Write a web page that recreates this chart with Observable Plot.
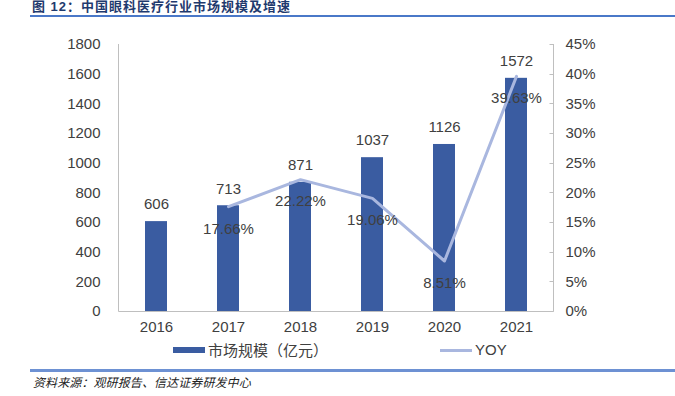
<!DOCTYPE html>
<html>
<head>
<meta charset="utf-8">
<script src="https://cdn.jsdelivr.net/npm/d3@7"></script>
<script src="https://cdn.jsdelivr.net/npm/@observablehq/plot@0.6"></script>
<style>
  html, body { margin: 0; padding: 0; background: #fff; }
  #wrap { position: relative; width: 675px; height: 396px; overflow: hidden; font-family: "Liberation Sans", Arial, sans-serif; }
  #title { position: absolute; left: 32px; top: 0px; font-weight: bold; font-size: 13px; font-family: "Liberation Sans", "Noto Sans CJK SC", sans-serif; color: #1f3a6e; line-height: 14.5px; letter-spacing: 1px; white-space: nowrap; }
  #topline { position: absolute; left: 30px; right: 0; top: 15px; height: 2px; background: #4a78c8; }
  #chart { position: absolute; left: 0; top: 0; }
  #legend { position: absolute; left: 0; top: 340px; width: 675px; height: 20px; font-size: 15px; color: #404040; }
  .sw { position: absolute; }
  .lt { position: absolute; top: 0; line-height: 20px; font-family: "Noto Sans CJK SC", "Liberation Sans", sans-serif; white-space: nowrap; }
  #botline { position: absolute; left: 30px; right: 0; top: 369px; height: 3px; background: #6d91d3; }
  #caption { position: absolute; left: 33px; top: 373px; font: italic 12px "Noto Sans CJK SC", sans-serif; color: #222; letter-spacing: 0.1px; white-space: nowrap; }
</style>
</head>
<body>
<div id="wrap">
  <div id="chart"></div>
  <div id="title">图 12：中国眼科医疗行业市场规模及增速</div>
  <div id="topline"></div>
  <div id="legend"></div>
  <div id="botline"></div>
  <div id="caption">资料来源：观研报告、信达证券研发中心</div>
</div>
<script>
const years = ["2016", "2017", "2018", "2019", "2020", "2021"];
const marketSize = [606, 713, 871, 1037, 1126, 1572];
const yoyYears = ["2017", "2018", "2019", "2020", "2021"];
const yoyValues = [17.66, 22.22, 19.06, 8.51, 39.63];
const leftTicks = [0, 200, 400, 600, 800, 1000, 1200, 1400, 1600, 1800];
const rightTicks = [0, 5, 10, 15, 20, 25, 30, 35, 40, 45];
const seriesNames = ["市场规模（亿元）", "YOY"];

const barColor = "#3a5ca1";
const lineColor = "#a9b7df";
const textColor = "#404040";
const axisColor = "#bfbfbf";
const leftMax = 1800, rightMax = 45;
const k = leftMax / rightMax; // map percent onto the left scale

const bars = years.map((y, i) => ({year: y, value: marketSize[i]}));
const yoy = yoyYears.map((y, i) => ({year: y, value: yoyValues[i]}));

function axisLines(index, scales, values, dims) {
  const g = d3.create("svg:g").attr("fill", "none").attr("stroke", axisColor);
  const x0 = dims.marginLeft + 0.5, x1 = dims.width - dims.marginRight + 0.5;
  const yb = scales.y(0) + 0.5, yt = scales.y(leftMax);
  g.append("path").attr("d", `M${x0},${yt}V${yb}H${x1}V${yt}`);
  for (const t of rightTicks) {
    const yy = Math.round(scales.y(t * k)) + 0.5;
    g.append("path").attr("d", `M${x1 - 4},${yy}H${x1}`);
  }
  return g.node();
}

const plot = Plot.plot({
  width: 675,
  height: 340,
  marginLeft: 118,
  marginRight: 122,
  marginTop: 44,
  marginBottom: 29,
  style: {fontFamily: "'Liberation Sans', Arial, sans-serif", fontSize: "15px", color: textColor, background: "transparent"},
  x: {domain: years, paddingInner: 0.7, paddingOuter: 0.35, label: null},
  y: {domain: [0, leftMax], label: null},
  marks: [
    Plot.barY(bars, {x: "year", y: "value", fill: barColor}),
    Plot.line(yoy, {x: "year", y: d => d.value * k, stroke: lineColor, strokeWidth: 3}),
    axisLines,
    Plot.text(bars, {x: "year", y: "value", text: d => String(d.value), dy: -17, fill: textColor, fontSize: 15}),
    Plot.text(yoy, {x: "year", y: d => d.value * k, text: d => d.value.toFixed(2) + "%", dy: 22, fill: textColor, fontSize: 15}),
    Plot.axisY({anchor: "left", ticks: leftTicks, tickFormat: d => String(d), tickSize: 0, tickPadding: 18, label: null, fill: textColor, fontSize: 15}),
    Plot.axisY({anchor: "right", ticks: rightTicks.map(t => t * k), tickFormat: d => Math.round(d / k) + "%", tickSize: 0, tickPadding: 12, label: null, fill: textColor, fontSize: 15}),
    Plot.axisX({ticks: years, tickSize: 0, tickPadding: 10, label: null, fill: textColor, fontSize: 15})
  ]
});
document.getElementById("chart").appendChild(plot);

const legend = document.getElementById("legend");
legend.innerHTML = `
  <div class="sw" style="left:173px;top:7px;width:32px;height:6px;background:${barColor}"></div>
  <div class="lt" style="left:208px">${seriesNames[0]}</div>
  <div class="sw" style="left:440px;top:9px;width:32px;height:3px;background:${lineColor}"></div>
  <div class="lt" style="left:475px;font-family:'Liberation Sans',Arial,sans-serif">${seriesNames[1]}</div>`;
</script>
</body>
</html>
